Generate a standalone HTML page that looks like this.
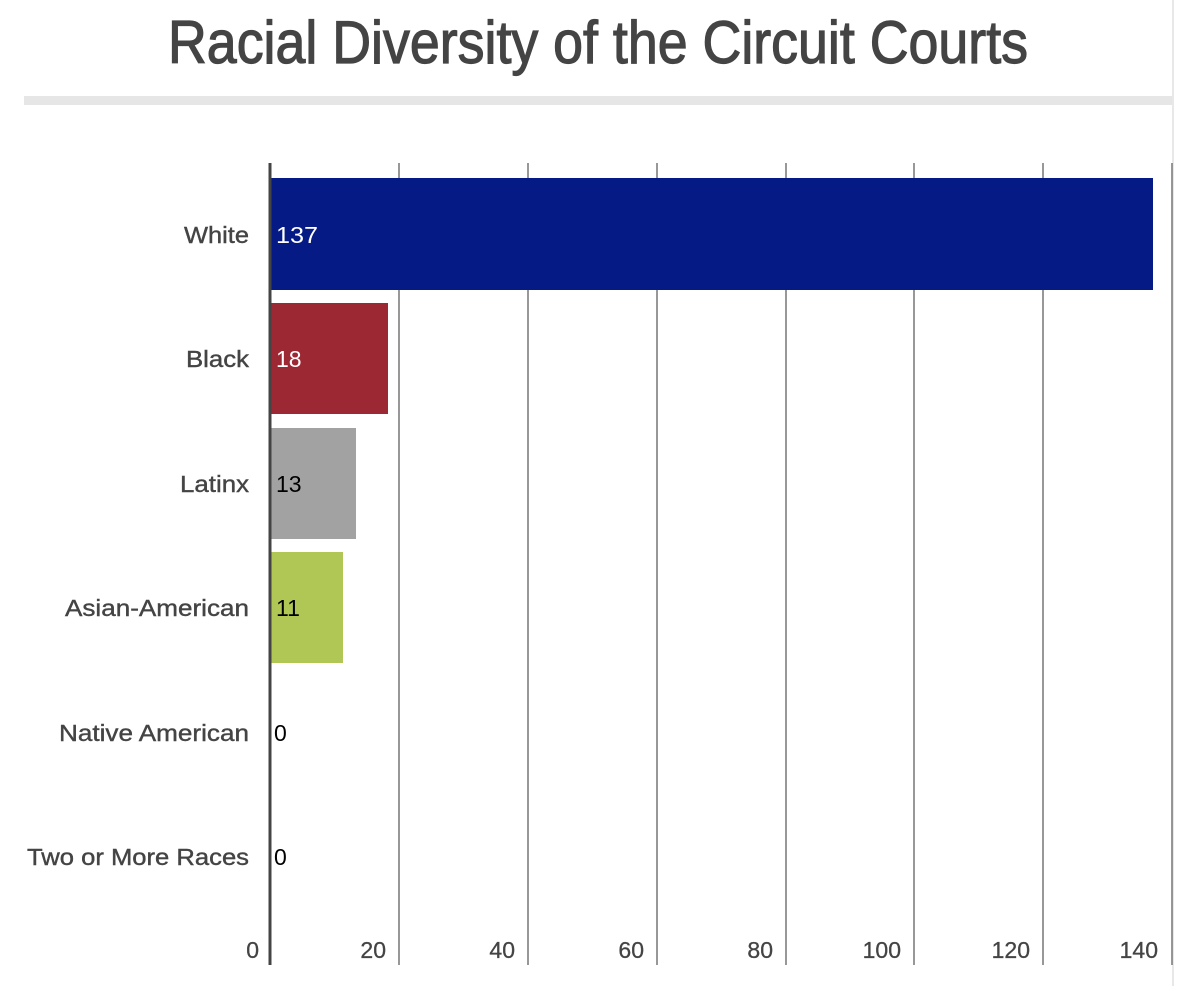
<!DOCTYPE html>
<html><head><meta charset="utf-8"><style>
body{margin:0;background:#fff;width:1188px;height:986px;overflow:hidden;font-family:"Liberation Sans",sans-serif}
</style></head><body>
<svg width="1188" height="986" xmlns="http://www.w3.org/2000/svg" font-family="Liberation Sans, sans-serif">
<text x="598" y="63" text-anchor="middle" font-size="60" fill="#444" stroke="#444" stroke-width="1.2" textLength="860" lengthAdjust="spacingAndGlyphs">Racial Diversity of the Circuit Courts</text>
<rect x="24" y="96" width="1150" height="9" fill="#e6e6e6"/>
<line x1="1173" y1="0" x2="1173" y2="986" stroke="#e8e8e8" stroke-width="2"/>
<g stroke="#777" stroke-width="1.5">
<line x1="399" y1="163" x2="399" y2="965"/><line x1="528" y1="163" x2="528" y2="965"/>
<line x1="657" y1="163" x2="657" y2="965"/><line x1="786" y1="163" x2="786" y2="965"/>
<line x1="914" y1="163" x2="914" y2="965"/><line x1="1043" y1="163" x2="1043" y2="965"/>
<line x1="1172" y1="163" x2="1172" y2="965"/>
</g>
<rect x="270" y="178" width="883" height="112" fill="#051a84"/>
<rect x="270" y="303" width="118" height="111" fill="#9b2832"/>
<rect x="270" y="428" width="86" height="111" fill="#a2a2a2"/>
<rect x="270" y="552" width="73" height="111" fill="#b1c755"/>
<line x1="270" y1="163" x2="270" y2="965" stroke="#444" stroke-width="3"/>
<g font-size="23" fill="#444" stroke="#444" stroke-width="0.4">
<text x="184" y="243" textLength="65" lengthAdjust="spacingAndGlyphs">White</text>
<text x="186" y="367" textLength="63" lengthAdjust="spacingAndGlyphs">Black</text>
<text x="180" y="492" textLength="69" lengthAdjust="spacingAndGlyphs">Latinx</text>
<text x="65" y="616" textLength="184" lengthAdjust="spacingAndGlyphs">Asian-American</text>
<text x="59" y="741" textLength="190" lengthAdjust="spacingAndGlyphs">Native American</text>
<text x="27" y="865" textLength="222" lengthAdjust="spacingAndGlyphs">Two or More Races</text>
</g>
<g font-size="23" fill="#444" stroke="#444" stroke-width="0.3" text-anchor="end">
<text x="259" y="958">0</text><text x="386" y="958">20</text><text x="515" y="958">40</text>
<text x="644" y="958">60</text><text x="773" y="958">80</text><text x="901" y="958">100</text>
<text x="1030" y="958">120</text><text x="1158" y="958">140</text>
</g>
<g font-size="23">
<text x="276" y="243" fill="#fff" textLength="42" lengthAdjust="spacingAndGlyphs">137</text>
<text x="276" y="367" fill="#fff">18</text>
<text x="276" y="492" fill="#000">13</text>
<text x="276" y="616" fill="#000">11</text>
<text x="274" y="741" fill="#000">0</text>
<text x="274" y="865" fill="#000">0</text>
</g>
</svg>
</body></html>
